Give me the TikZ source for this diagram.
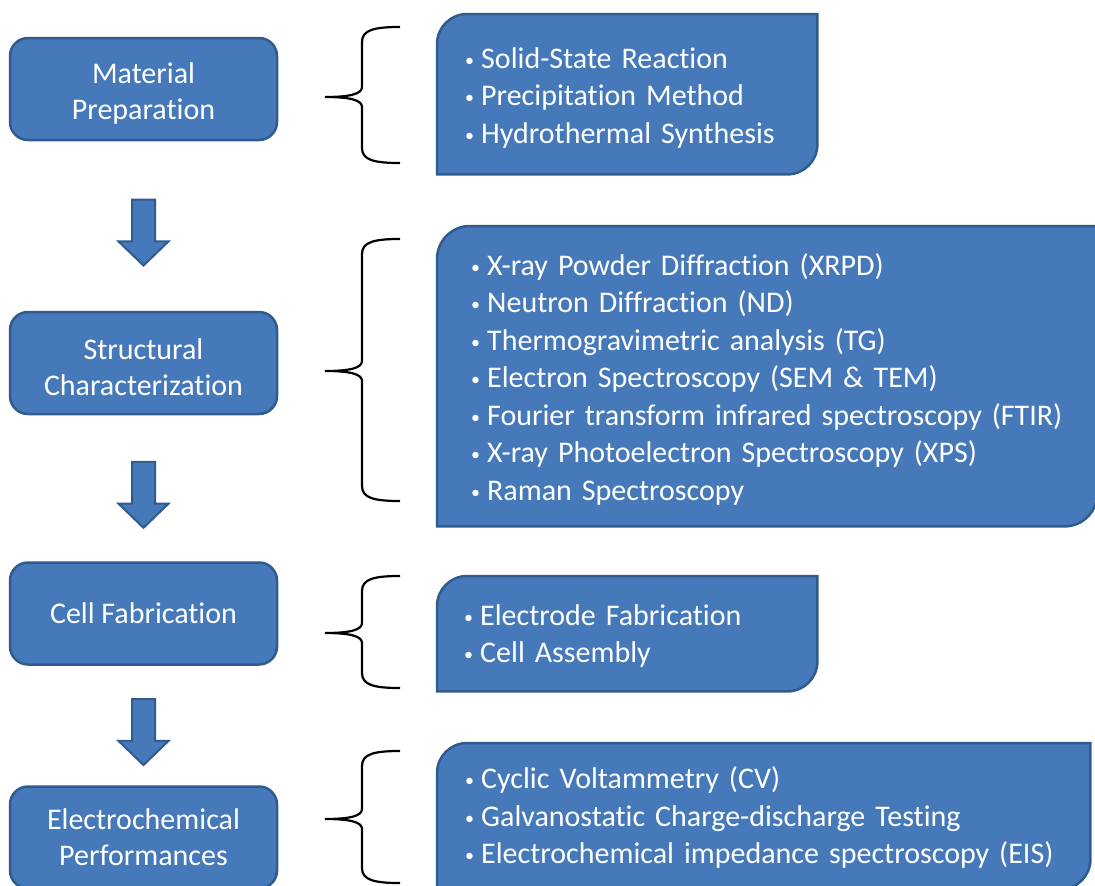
\documentclass[tikz,border=0pt]{standalone}
\usepackage{fontspec}
\setmainfont{Carlito}[Ligatures=NoCommon]
\usepackage{tikz}
\usetikzlibrary{positioning,calc,shapes.arrows,backgrounds}
\definecolor{boxblue}{HTML}{4679BA}
\definecolor{boxline}{HTML}{2F5B8E}
\tikzstyle{stagebox}=[draw=boxline,fill=boxblue,line width=2.5pt,rounded corners=18pt,minimum width=267pt,minimum height=102pt,inner sep=0pt,text=white,align=center,font=\fontsize{30}{36}\selectfont]
\tikzstyle{listbox}=[anchor=north west,inner ysep=0pt,text=white,align=left,font=\fontsize{30}{37.5}\selectfont]
\tikzstyle{listline}=[draw=boxline,fill=boxblue,line width=2.5pt]
\tikzstyle{downarrow}=[draw=boxline,fill=boxblue,line width=2pt,single arrow,shape border rotate=270,minimum height=66pt,minimum width=48pt,single arrow head extend=13.5pt,single arrow tip angle=92,inner sep=10.5pt]
\tikzstyle{braceline}=[draw=black,line width=2.2pt]
\newcommand\itm[1]{\mbox{\makebox[16pt][l]{\raisebox{2pt}{\fontsize{18}{18}\selectfont\textbullet}}#1}}
\newcommand\topstrut[1]{\rule{0pt}{#1}}
% frame with two round corners (top left, bottom right)
\newcommand\listframe[2]{%
  \draw[listline] ([xshift=#2]#1.north west) -- (#1.north east) -- ([yshift=#2]#1.south east)
    .. controls ([yshift=0.448*#2]#1.south east) and ([xshift=-0.448*#2]#1.south east) .. ([xshift=-#2]#1.south east)
    -- (#1.south west) -- ([yshift=-#2]#1.north west)
    .. controls ([yshift=-0.448*#2]#1.north west) and ([xshift=0.448*#2]#1.north west) .. ([xshift=#2]#1.north west) -- cycle;}
\newcommand\drawbrace[3]{%
  \draw[braceline] (400,#1) .. controls (374,#1) and (362,#1+3) .. (362,#1+15)
    -- (362,#2-10) .. controls (362,#2-3) and (350,#2) .. (325,#2)
    .. controls (350,#2) and (362,#2+3) .. (362,#2+10)
    -- (362,#3-15) .. controls (362,#3-3) and (374,#3) .. (400,#3);}

\begin{document}
\begin{tikzpicture}[x=1pt,y=-1pt]
  \useasboundingbox (0,0) rectangle (1095,886);

  % stages
  \node [stagebox] (mp) at (143.5,89) {\topstrut{29pt}Material\\Preparation};
  \node [stagebox] (sc) at (143.5,363) {\topstrut{29pt}Structural\\Characterization};
  \node [stagebox] (cf) at (143.5,613.5) {Cell Fabrication};
  \node [stagebox] (ep) at (143.5,837.5) {Electrochemical\\Performances};

  \node [downarrow] (a1) at ($(mp.south)!0.5!(sc.north)+(0,1)$) {};
  \node [downarrow] (a2) at ($(sc.south)!0.5!(cf.north)+(0,1)$) {};
  \node [downarrow] (a3) at ($(cf.south)!0.5!(ep.north)+(0,1)$) {};

  % methods
  \node [listbox,inner xsep=28pt,text width=324pt,minimum height=160pt] (mpl) at (437,14)
    {\topstrut{28pt}\itm{Solid-State Reaction}\\\itm{Precipitation Method}\\\itm{Hydrothermal Synthesis}};
  \node [listbox,inner xsep=34pt,text width=592pt,minimum height=300pt] (scl) at (437,226)
    {\topstrut{28pt}\itm{X-ray Powder Diffraction (XRPD)}\\\itm{Neutron Diffraction (ND)}\\\itm{Thermogravimetric analysis (TG)}\\\itm{Electron Spectroscopy (SEM \& TEM)}\\\itm{Fourier transform infrared spectroscopy (FTIR)}\\\itm{X-ray Photoelectron Spectroscopy (XPS)}\\\itm{Raman Spectroscopy}};
  \node [listbox,inner xsep=27pt,text width=326pt,minimum height=115pt] (cfl) at (437,576)
    {\topstrut{25pt}\itm{Electrode Fabrication}\\\itm{Cell Assembly}};
  \node [listbox,inner xsep=28pt,text width=597pt,minimum height=146pt] (epl) at (437,743)
    {\topstrut{25pt}\itm{Cyclic Voltammetry (CV)}\\\itm{Galvanostatic Charge-discharge Testing}\\\itm{Electrochemical impedance spectroscopy (EIS)}};

  \begin{scope}[on background layer]
    \listframe{mpl}{30pt}
    \listframe{scl}{33pt}
    \listframe{cfl}{30pt}
    \listframe{epl}{30pt}
  \end{scope}

  % braces
  \drawbrace{27}{97}{163}
  \drawbrace{239}{371}{501}
  \drawbrace{576}{633}{688}
  \drawbrace{751}{819}{883}
\end{tikzpicture}
\end{document}
